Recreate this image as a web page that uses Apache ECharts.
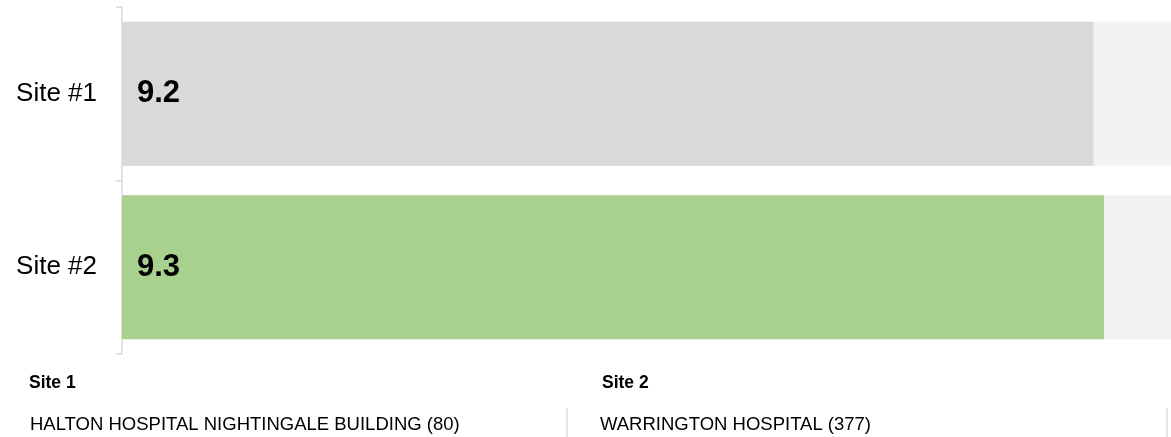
<!DOCTYPE html>
<html>
<head>
<meta charset="utf-8">
<script src="https://cdn.jsdelivr.net/npm/echarts@6/dist/echarts.min.js"></script>
<style>
  html, body { margin: 0; padding: 0; background: #ffffff; }
  #chart { width: 1171px; height: 437px; }
</style>
</head>
<body>
<div id="chart"></div>
<script>
// Scores per site
const categories = ['Site #1', 'Site #2'];
const scores = [9.2, 9.3];
const barColors = ['#d9d9d9', '#a9d18e'];
const scaleMax = 10;

// Site legend below the bars
const siteHeadings = ['Site 1', 'Site 2'];
const siteNames = ['HALTON HOSPITAL NIGHTINGALE BUILDING', 'WARRINGTON HOSPITAL'];
const siteCounts = [80, 377];

const chart = echarts.init(document.getElementById('chart'));

const font = 'Arial, "Liberation Sans", sans-serif';
const columnX = [29, 602];
const dividerX = [567, 1167];

const graphics = [];
siteHeadings.forEach((h, i) => {
  graphics.push({
    type: 'text', left: columnX[i], top: 374,
    style: { text: h, font: 'bold 17.5px ' + font, fill: '#000' }
  });
  graphics.push({
    type: 'text', left: columnX[i] + (i ? -2 : 1), top: 415,
    style: { text: siteNames[i] + ' (' + siteCounts[i] + ')', font: '18.5px ' + font, fill: '#000' }
  });
});
dividerX.forEach(x => {
  graphics.push({
    type: 'line',
    shape: { x1: x, y1: 408, x2: x, y2: 437 },
    style: { stroke: '#cccccc', lineWidth: 1 }
  });
});

chart.setOption({
  animation: false,
  // plot area runs a little past the right edge of the canvas
  grid: { left: 122, right: -7, top: 7, bottom: 83, outerBoundsMode: 'none' },
  xAxis: {
    type: 'value', min: 0, max: scaleMax,
    show: false
  },
  yAxis: {
    type: 'category',
    data: categories,
    inverse: true,
    axisLine: { show: true, lineStyle: { color: '#d9d9d9', width: 1.5 } },
    axisTick: { show: true, length: 6, lineStyle: { color: '#d9d9d9', width: 1.5 } },
    axisLabel: { margin: 25, fontSize: 26, color: '#000', fontFamily: font }
  },
  series: [{
    type: 'bar',
    data: scores.map((v, i) => ({ value: v, itemStyle: { color: barColors[i] } })),
    barWidth: 144,
    showBackground: true,
    backgroundStyle: { color: '#f2f2f2' },
    label: {
      show: true, position: 'insideLeft', distance: 15,
      fontSize: 31, fontWeight: 'bold', color: '#000', fontFamily: font,
      formatter: p => p.value.toFixed(1)
    }
  }],
  graphic: graphics
});
</script>
</body>
</html>
